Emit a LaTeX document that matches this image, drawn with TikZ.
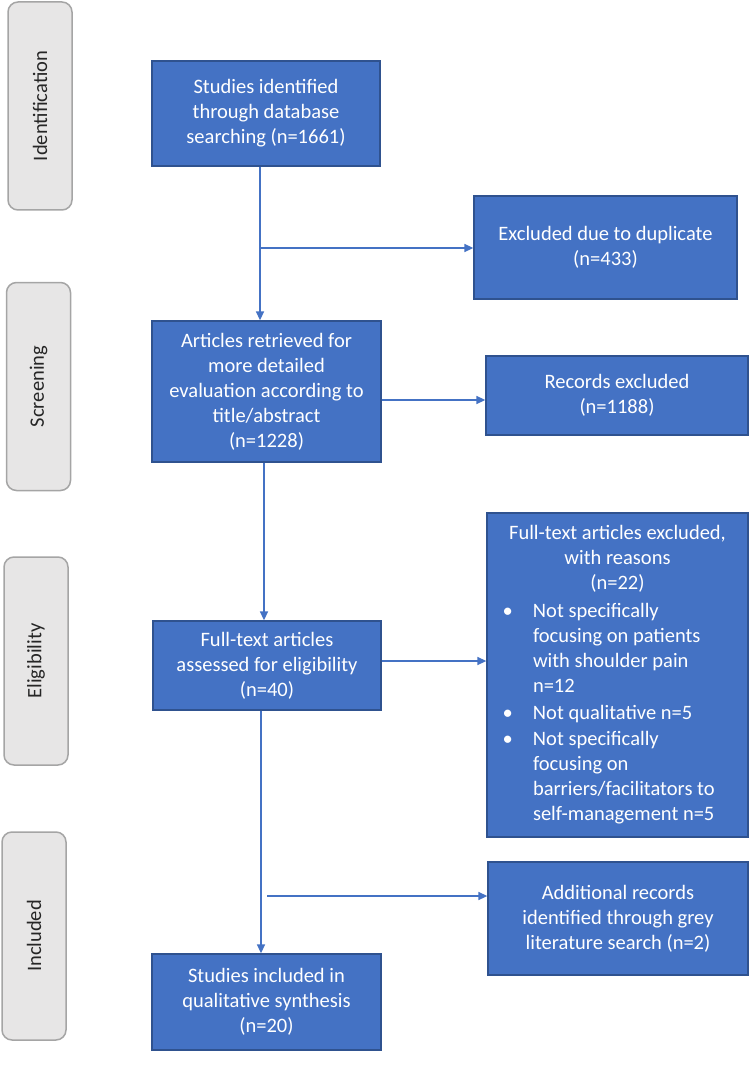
\documentclass[tikz,border=0pt]{standalone}
\usepackage{fontspec}
\setmainfont{Carlito}
\usetikzlibrary{arrows.meta}
\definecolor{boxblue}{HTML}{4472C4}
\definecolor{boxedge}{HTML}{2F528F}
\definecolor{stagefill}{HTML}{E7E6E6}
\definecolor{stageedge}{HTML}{A5A5A5}
\definecolor{stagetext}{HTML}{262626}
\newcommand{\bulletitem}{\noindent\hangindent=35.5pt\hangafter=1\hspace*{5pt}\makebox[30.5pt][l]{\textbullet}}
\tikzset{
  mainfont/.style={font=\fontsize{20.5}{25}\selectfont},
  bluebox/.style={draw=boxedge, line width=1.3pt, fill=boxblue, text=white, align=center, inner sep=0pt, mainfont},
  stagebox/.style={draw=stageedge, line width=1.5pt, fill=stagefill, text=stagetext, rounded corners=10pt, inner sep=0pt, rotate=90, minimum width=208pt, minimum height=64pt, mainfont},
  arr/.style={draw=boxblue, line width=1.5pt, -{Triangle[length=9pt,width=8pt]}}
}
\begin{document}
\begin{tikzpicture}[x=1pt,y=-1pt]
\useasboundingbox (0,0) rectangle (750,1091);
% stage boxes
\node[stagebox] (s1) at (40,106) {Identification};
\node[stagebox] (s2) at (38.5,386.5) {Screening};
\node[stagebox] (s3) at (36,661) {Eligibility};
\node[stagebox] (s4) at (34,936) {Included};
% main boxes
\node[bluebox, minimum width=228pt, minimum height=105pt] (b1) at (266,113.5) {Studies identified\\through database\\searching (n=1661)};
\node[bluebox, minimum width=263pt, minimum height=103pt] (dup) at (605.5,247.5) {Excluded due to duplicate\\(n=433)};
\node[bluebox, minimum width=229pt, minimum height=141pt] (art) at (266.5,391.5) {Articles retrieved for\\more detailed\\evaluation according to\\title/abstract\\(n=1228)};
\node[bluebox, minimum width=262pt, minimum height=79pt] (rec) at (617,395.5) {Records excluded\\(n=1188)};
\node[bluebox, minimum width=228pt, minimum height=89pt] (ft) at (267,665.5) {Full-text articles\\assessed for eligibility\\(n=40)};
\node[bluebox, minimum width=261pt, minimum height=324pt] (fte) at (617.5,675) {%
\begin{minipage}{240pt}
\centering Full-text articles excluded,\\with reasons\\(n=22)\par
\raggedright
\vspace{3pt}\bulletitem Not specifically\newline focusing on patients\newline with shoulder pain\newline n=12\par
\vspace{2pt}\bulletitem Not qualitative n=5\par
\vspace{1pt}\bulletitem Not specifically\newline focusing on\newline barriers/facilitators to\newline self-management n=5\par
\end{minipage}};
\node[bluebox, minimum width=260pt, minimum height=113pt] (add) at (618,918.5) {Additional records\\identified through grey\\literature search (n=2)};
\node[bluebox, minimum width=229pt, minimum height=96pt] (inc) at (266.5,1002) {Studies included in\\qualitative synthesis\\(n=20)};
% connectors
\coordinate (c1) at (260,248);
\coordinate (c2) at (267,896);
\draw[arr] (b1.south -| c1) -- (art.north -| c1);
\draw[arr] (c1) -- (c1 -| dup.west);
\draw[arr] (art.east |- 0,400) -- (rec.west |- 0,400);
\draw[arr] (art.south -| 264,0) -- (ft.north -| 264,0);
\draw[arr] (ft.east |- 0,661) -- (fte.west |- 0,661);
\draw[arr] (ft.south -| 261,0) -- (inc.north -| 261,0);
\draw[arr] (c2) -- (c2 -| add.west);
\end{tikzpicture}
\end{document}
